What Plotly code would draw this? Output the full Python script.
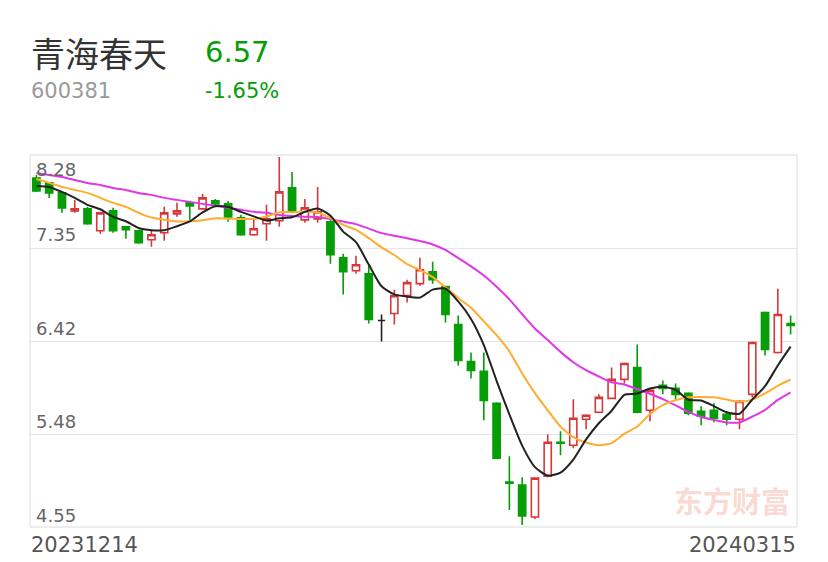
import plotly.graph_objects as go
import pandas as pd

dates = ["20231214","20231215","20231218","20231219","20231220","20231221","20231222",
         "20231225","20231226","20231227","20231228","20231229",
         "20240102","20240103","20240104","20240105","20240108","20240109","20240110",
         "20240111","20240112","20240115","20240116","20240117","20240118","20240119",
         "20240122","20240123","20240124","20240125","20240126","20240129","20240130","20240131",
         "20240201","20240202","20240205","20240206","20240207","20240208",
         "20240219","20240220","20240221","20240222","20240223","20240226","20240227","20240228","20240229",
         "20240301","20240304","20240305","20240306","20240307","20240308",
         "20240311","20240312","20240313","20240314","20240315"]

open_ = [8.05,8.00,7.90,7.72,7.74,7.52,7.72,7.56,7.52,7.43,
         7.50,7.69,7.80,7.74,7.82,7.79,7.65,7.48,7.59,7.62,
         7.95,7.63,7.64,7.61,7.25,7.12,7.09,6.62,6.69,6.87,
         6.99,7.11,6.96,6.58,6.21,6.11,5.79,5.00,4.97,4.65,
         5.06,5.40,5.37,5.63,5.70,5.84,6.03,6.15,5.72,5.97,
         5.94,5.89,5.71,5.72,5.68,5.63,5.88,6.70,6.30,6.59]
high = [8.08,8.01,7.90,7.83,7.76,7.71,7.75,7.57,7.53,7.53,
        7.76,7.80,7.81,7.89,7.84,7.82,7.68,7.63,7.78,8.26,
        8.11,7.84,7.96,7.68,7.29,7.27,7.18,6.68,6.93,7.03,
        7.25,7.21,6.97,6.67,6.30,6.30,5.80,5.26,5.05,5.05,
        5.48,5.51,5.83,5.68,5.88,6.15,6.20,6.38,5.93,6.02,
        5.99,5.90,5.76,5.79,5.71,5.82,6.41,6.71,6.94,6.67]
low = [7.91,7.85,7.70,7.70,7.58,7.49,7.50,7.44,7.39,7.36,
       7.42,7.66,7.63,7.73,7.76,7.61,7.47,7.47,7.42,7.56,
       7.70,7.60,7.60,7.19,6.88,7.09,6.59,6.41,6.58,6.80,
       6.97,6.99,6.60,6.17,6.04,5.62,5.23,4.72,4.57,4.63,
       5.05,5.27,5.34,5.53,5.69,5.83,5.99,5.69,5.61,5.88,
       5.83,5.67,5.57,5.60,5.57,5.53,5.85,6.27,6.29,6.48]
close = [7.92,7.90,7.75,7.74,7.59,7.70,7.52,7.53,7.40,7.48,
         7.70,7.72,7.77,7.85,7.79,7.66,7.48,7.54,7.64,7.91,
         7.71,7.75,7.71,7.28,7.11,7.18,6.63,6.62,6.87,7.00,
         7.13,7.03,6.68,6.22,6.12,5.82,5.24,4.99,4.66,5.04,
         5.40,5.39,5.64,5.67,5.85,6.03,6.19,5.70,5.92,5.94,
         5.88,5.69,5.66,5.64,5.63,5.81,6.40,6.33,6.68,6.57]

ma5_head = [7.97, 7.96, 7.91, 7.85]
ma10_head = [8.04, 8.00, 7.96, 7.93, 7.90, 7.85, 7.80, 7.76, 7.70]
ma20_head = [8.10, 8.08, 8.06, 8.03, 8.00, 7.98, 7.95, 7.93, 7.90, 7.88,
             7.85, 7.83, 7.81, 7.79, 7.77, 7.75, 7.73, 7.71, 7.70]

y_ticks = [8.28, 7.3475, 6.415, 5.4825, 4.55]
y_tick_text = ["8.28", "7.35", "6.42", "5.48", "4.55"]

name = "青海春天"
code = "600381"
last_price = "6.57"
change = "-1.65%"
watermark = "东方财富"

cs = pd.Series(close)
def ma(n, head):
    vals = cs.rolling(n).mean().tolist()
    return head + vals[len(head):]
ma5 = ma(5, ma5_head)
ma10 = ma(10, ma10_head)
ma20 = ma(20, ma20_head)

RED = "#d8373a"
GREEN = "#079d07"

doji = [i for i in range(len(close)) if open_[i] == close[i]]
def mask(arr):
    return [None if i in doji else v for i, v in enumerate(arr)]

fig = go.Figure()
fig.add_trace(go.Candlestick(
    x=dates, open=mask(open_), high=mask(high), low=mask(low), close=mask(close),
    increasing=dict(line=dict(color=RED, width=1.6), fillcolor="white"),
    decreasing=dict(line=dict(color=GREEN, width=1.6), fillcolor=GREEN),
    whiskerwidth=0, showlegend=False, hoverinfo="skip"))
fig.add_trace(go.Candlestick(
    x=[dates[i] for i in doji], open=[open_[i] for i in doji], high=[high[i] for i in doji],
    low=[low[i] for i in doji], close=[close[i] for i in doji],
    increasing=dict(line=dict(color="#222222", width=1.6), fillcolor="#222222"),
    decreasing=dict(line=dict(color="#222222", width=1.6), fillcolor="#222222"),
    whiskerwidth=0, showlegend=False, hoverinfo="skip"))

for vals, col in [(ma20, "#e036e6"), (ma10, "#ffac2f"), (ma5, "#222222")]:
    fig.add_trace(go.Scatter(x=dates, y=vals, mode="lines",
                             line=dict(color=col, width=2, shape="spline", smoothing=0.6),
                             showlegend=False, hoverinfo="skip"))

# page pixel -> paper coordinates (plot area spans x 30..797, y 155..527 on the page)
def py(px):
    return (527 - px) / 372.0
def pxx(px):
    return (px - 30) / 767.0

ann = []
ann.append(dict(text=name, x=pxx(29), y=py(52), xanchor="left", yanchor="middle",
                font=dict(family="Noto Sans CJK SC", size=34, color="#333333")))
ann.append(dict(text=last_price, x=pxx(203), y=py(52), xanchor="left", yanchor="middle",
                font=dict(family="DejaVu Sans", size=29, color=GREEN)))
ann.append(dict(text=code, x=pxx(29), y=py(91), xanchor="left", yanchor="middle",
                font=dict(family="DejaVu Sans", size=21, color="#9a9a9a")))
ann.append(dict(text=change, x=pxx(203), y=py(91), xanchor="left", yanchor="middle",
                font=dict(family="DejaVu Sans", size=21, color=GREEN)))
label_centers = [169, 234.5, 328, 421.5, 515]
for t, c in zip(y_tick_text, label_centers):
    ann.append(dict(text=t, x=pxx(34), y=py(c), xanchor="left", yanchor="middle",
                    font=dict(family="DejaVu Sans", size=18, color="#666666")))
ann.append(dict(text=dates[0], x=pxx(29), y=py(545), xanchor="left", yanchor="middle",
                font=dict(family="DejaVu Sans", size=21, color="#555555")))
ann.append(dict(text=dates[-1], x=pxx(798), y=py(545), xanchor="right", yanchor="middle",
                font=dict(family="DejaVu Sans", size=21, color="#555555")))
ann.append(dict(text="<b>" + watermark + "</b>", x=pxx(732), y=py(500), xanchor="center", yanchor="middle",
                font=dict(family="Noto Sans CJK SC", size=29, color="rgba(235,125,105,0.30)")))
for a in ann:
    a.update(xref="paper", yref="paper", showarrow=False)

# the page body keeps an 8px default margin, so the figure is 8px smaller and margins shifted
fig.update_layout(
    width=820, height=554,
    margin=dict(l=22, r=31, t=147, b=35),
    paper_bgcolor="white", plot_bgcolor="white",
    boxgap=0.2,
    annotations=ann,
    xaxis=dict(type="category", range=[-0.5, len(dates) - 0.5], showgrid=False,
               showticklabels=False, zeroline=False, showline=False, ticks="",
               rangeslider=dict(visible=False), fixedrange=True),
    yaxis=dict(range=[4.55, 8.28], tickvals=y_ticks, showticklabels=False,
               gridcolor="#e4e4ea", gridwidth=1, zeroline=False, showline=False, ticks=""),
    shapes=[dict(type="rect", xref="paper", yref="paper", x0=0, x1=1, y0=0, y1=1,
                 line=dict(color="#dcdcdc", width=1), layer="below")],
)

fig.write_html("out.html")
